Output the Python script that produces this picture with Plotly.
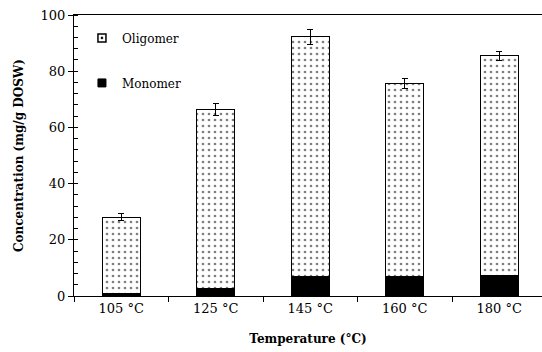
import plotly.graph_objects as go

categories = ["105 °C", "125 °C", "145 °C", "160 °C", "180 °C"]
monomer = [0.8, 2.5, 7.0, 7.0, 7.3]
total = [28.0, 66.3, 92.2, 75.7, 85.5]
oligomer = [t - m for t, m in zip(total, monomer)]
errors = [1.3, 2.1, 2.7, 1.8, 1.6]

font_family = "DejaVu Serif"

fig = go.Figure()
fig.add_trace(go.Bar(
    x=categories, y=monomer, name="Monomer", showlegend=False,
    marker=dict(color="black", line=dict(color="black", width=1)),
    width=0.4,
))
fig.add_trace(go.Bar(
    x=categories, y=oligomer, name="Oligomer", showlegend=False,
    marker=dict(color="white", line=dict(color="black", width=1),
                pattern=dict(shape=".", fgcolor="black", bgcolor="white", size=6, solidity=0.16)),
    width=0.4,
    error_y=dict(type="data", array=errors, color="black", thickness=1, width=3),
))
# legend entries
fig.add_trace(go.Scatter(
    x=[None], y=[None], mode="markers", name="Oligomer", legendgroup="o",
    marker=dict(symbol="square-dot", size=8, color="white", line=dict(color="black", width=1.5)),
))
fig.add_trace(go.Scatter(
    x=[None], y=[None], mode="markers", name="Monomer", legendgroup="m",
    marker=dict(symbol="square", size=8, color="black", line=dict(color="black", width=1)),
))

fig.update_layout(
    width=542, height=352,
    margin=dict(l=74, r=0, t=15, b=56),
    barmode="stack",
    plot_bgcolor="white", paper_bgcolor="white",
    font=dict(family=font_family, color="black", size=12),
    showlegend=True,
    legend=dict(x=0.017, y=0.97, xanchor="left", yanchor="top",
                traceorder="grouped", tracegroupgap=26,
                bgcolor="rgba(0,0,0,0)", font=dict(size=12, family=font_family),
                itemwidth=30),
    xaxis=dict(
        range=[-0.5, 4.452], showline=True, linecolor="black", linewidth=1,
        mirror=True, ticks="outside", ticklen=5, tickson="boundaries",
        tickcolor="black", tickfont=dict(size=13, family=font_family),
        title=dict(text="<b>Temperature (°C)</b>", font=dict(size=12, family=font_family), standoff=20),
        showgrid=False,
    ),
    yaxis=dict(
        range=[0, 100], dtick=20, showline=True, linecolor="black", linewidth=1,
        ticks="outside", ticklen=5, tickcolor="black", showgrid=False, zeroline=False,
        tickfont=dict(size=13, family=font_family),
        minor=dict(dtick=4, ticks="inside", ticklen=4, tickcolor="black"),
        title=dict(text="<b>Concentration (mg/g DOSW)</b>", font=dict(size=12, family=font_family), standoff=14),
    ),
)

fig.write_html("out.html")
